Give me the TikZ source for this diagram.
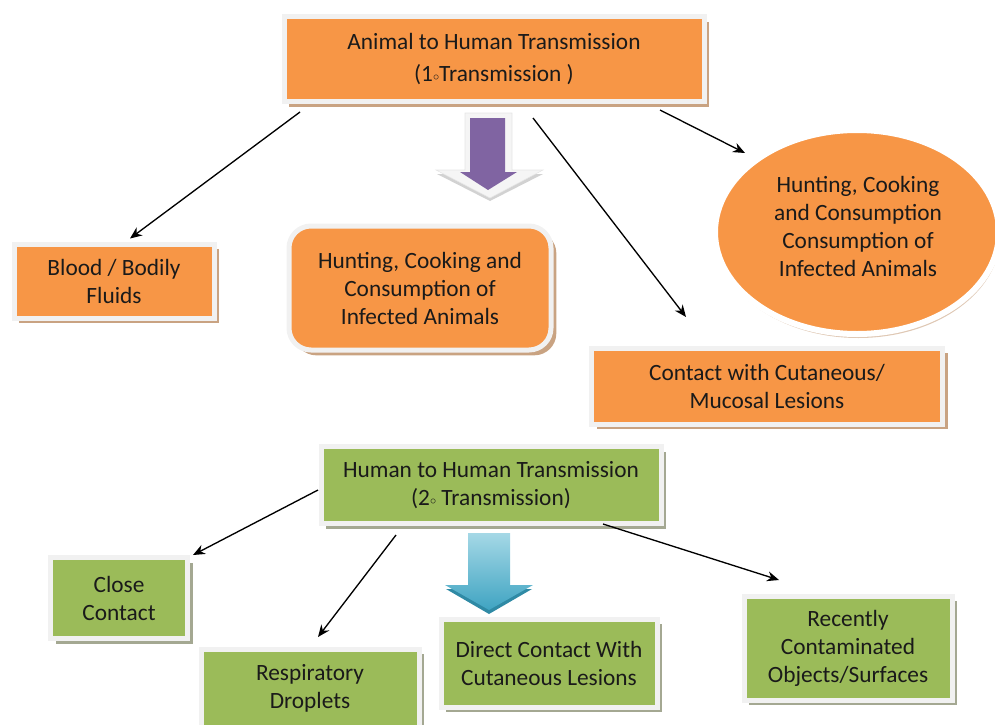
\documentclass[tikz,border=0pt]{standalone}
\usepackage{fontspec}
\setmainfont{Carlito}
\usetikzlibrary{shapes.geometric,shadows,calc,arrows.meta}

\definecolor{orangeFill}{HTML}{F79646}
\definecolor{orangeShadow}{HTML}{C9A382}
\definecolor{greenFill}{HTML}{9BBB59}
\definecolor{greenShadow}{HTML}{A4A892}
\definecolor{frameGray}{HTML}{F1F1F1}
\definecolor{purpleFill}{HTML}{8064A2}
\definecolor{blueLight}{HTML}{A5D8E6}
\definecolor{blueDark}{HTML}{3FA4C2}
\definecolor{blueShadow}{HTML}{2F8AA5}
\definecolor{textBlack}{HTML}{1A1A1A}

\newlength\pix
\setlength\pix{0.75pt}
\newcommand\degsym{\raisebox{0.12ex}{\small$\circ$}}

\begin{document}
\begin{tikzpicture}[x=0.75pt,y=-0.75pt]
\tikzstyle{panel}=[draw=frameGray,line width=5\pix,outer sep=0pt,text=textBlack,align=center,font=\fontsize{17.5pt}{21pt}\selectfont]
\tikzstyle{obox}=[panel,rectangle,fill=orangeFill,drop shadow={shadow xshift=4pt,shadow yshift=-4pt,fill=orangeShadow,opacity=1}]
\tikzstyle{gbox}=[panel,rectangle,fill=greenFill,drop shadow={shadow xshift=4pt,shadow yshift=-4pt,fill=greenShadow,opacity=1}]
\tikzstyle{conn}=[-{Stealth[length=9pt,width=7.5pt]},line width=1pt,black]

\useasboundingbox (0,0) rectangle (995,724);

% primary transmission
\node[obox,minimum width=420\pix,minimum height=85\pix] (animal) at (494,59) {Animal to Human Transmission\\[3pt](1\degsym Transmission )};

\node[obox,minimum width=200\pix,minimum height=74\pix] (blood) at (114,281) {Blood / Bodily\\Fluids};
\node[obox,rounded corners=22\pix,minimum width=262\pix,minimum height=124\pix] (hunting) at (420,288) {Hunting, Cooking and\\Consumption of\\Infected Animals};
\node[panel,ellipse,fill=orangeFill,draw=white,line width=6\pix,minimum width=284\pix,minimum height=204\pix,drop shadow={shadow xshift=1pt,shadow yshift=-3pt,fill=orangeShadow!60,opacity=1}] (huntOval) at (857,232) {};
\node[panel,draw=none,fill=none] (huntOvalText) at (858,226) {Hunting, Cooking\\and Consumption\\Consumption of\\Infected Animals};
\node[obox,minimum width=351\pix,minimum height=76\pix] (cutaneous) at (767,386) {Contact with Cutaneous/\\Mucosal Lesions};

\draw[conn] ($(animal.south)+(-194,10.5)$) -- ($(blood.north)+(16,-5.5)$);
\draw[conn] ($(animal.south)+(39,16.5)$) -- ($(cutaneous.north)+(-81,-31)$);
\draw[conn] ($(animal.south)+(166,8.5)$) -- ($(huntOval.center)+(-112,-79)$);

% purple block arrow
\fill[gray!35] (437,174) -- (543,174) -- (490,201) -- cycle;
\filldraw[fill=gray!8,draw=gray!20] (465,113) -- (512,113) -- (512,170) -- (543,170) -- (490,198) -- (436,170) -- (465,170) -- cycle;
\fill[purpleFill] (470,118) -- (505,118) -- (505,172) -- (517,172) -- (488,190) -- (460,172) -- (470,172) -- cycle;

% secondary transmission
\node[gbox,minimum width=340\pix,minimum height=77\pix] (human) at (491,485) {Human to Human Transmission\\(2\degsym{} Transmission)};

\node[gbox,minimum width=137\pix,minimum height=81\pix] (close) at (119,598) {Close\\Contact};
\node[gbox,minimum width=218\pix,minimum height=78\pix] (droplets) at (310,688) {Respiratory\\Droplets};
\node[gbox,minimum width=216\pix,minimum height=88\pix] (direct) at (549,663) {Direct Contact With\\Cutaneous Lesions};
\node[gbox,minimum width=208\pix,minimum height=104\pix] (recent) at (848,648) {Recently\\Contaminated\\Objects/Surfaces};

\draw[conn] ($(human.west)+(-3,5)$) -- ($(close.north east)+(5.5,-2.5)$);
\draw[conn] ($(human.south)+(-95,11.5)$) -- ($(droplets.north)+(8,-12)$);
\draw[conn] ($(human.south)+(112,0.5)$) -- ($(recent.north)+(-69,-16)$);

% blue block arrow
\fill[blueShadow] (446,589) -- (532,589) -- (489,614) -- cycle;
\shade[top color=blueLight,bottom color=blueDark] (468,533) -- (510,533) -- (510,585) -- (533,585) -- (489,610) -- (445,585) -- (468,585) -- cycle;

\end{tikzpicture}
\end{document}
